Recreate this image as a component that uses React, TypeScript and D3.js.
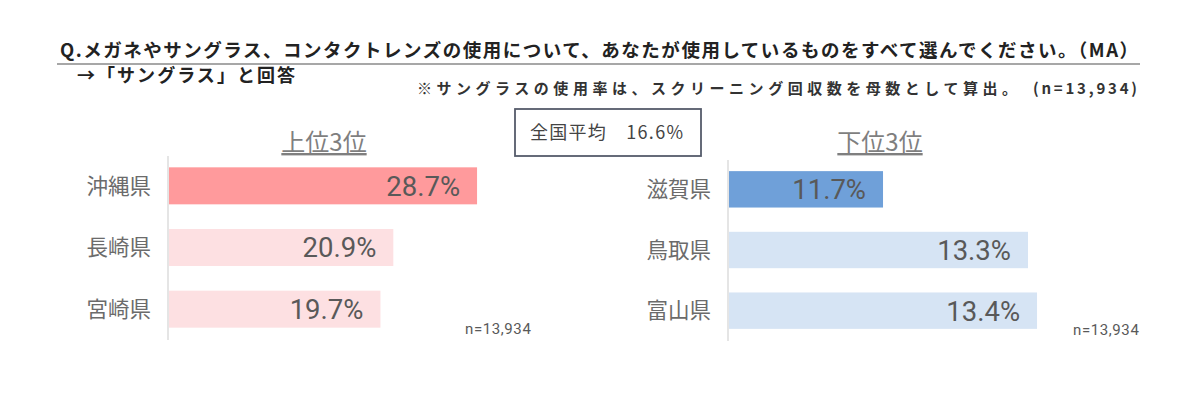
import React from "react";
import * as d3 from "d3";

const topCategories = ["沖縄県", "長崎県", "宮崎県"];
const topValues = [28.7, 20.9, 19.7];
const bottomCategories = ["滋賀県", "鳥取県", "富山県"];
const bottomValues = [11.7, 13.3, 13.4];
const topColors = ["#ff9a9c", "#fde0e2", "#fde0e2"];
const bottomColors = ["#6fa0d9", "#d6e4f4", "#d6e4f4"];

const TITLE = "Q.メガネやサングラス、コンタクトレンズの使用について、あなたが使用しているものをすべて選んでください。（MA）";
const SUB = "→「サングラス」と回答";
const NOTE = "※サングラスの使用率は、スクリーニング回収数を母数として算出。";
const NOTE_N = "(n=13,934)";
const N_LABEL = "n=13,934";
const AVG_LABEL = "全国平均　16.6%";

const JP = "'Noto Sans CJK JP', 'Noto Sans', sans-serif";
const NUM = "Roboto, 'Noto Sans', sans-serif";

function Panel({ cats, vals, colors, x, y, axisX, heading, headingX, nX, nY }: any) {
  return (
    <g>
      <text x={headingX} y={151} textAnchor="middle" fontFamily={JP} fontSize={24} fill="#7f7f7f" textDecoration="underline">{heading}</text>
      <line x1={axisX} x2={axisX} y1={y.range()[0] + 1} y2={y.range()[1]} stroke="#dcdcdc" strokeWidth={1.5} />
      {cats.map((c: string, i: number) => {
        const y0 = y(c)!;
        const bw = y.bandwidth();
        const x0 = x.range()[0];
        const x1 = x(vals[i]);
        return (
          <g key={c}>
            <rect x={x0} y={y0} width={x1 - x0} height={bw} fill={colors[i]} />
            <text x={axisX - 17} y={y0 + bw / 2} dy="0.36em" textAnchor="end" fontFamily={JP} fontSize={21.5} fill="#6b6b6b">{c}</text>
            <text x={x1 - 17} y={y0 + bw / 2} dy="0.36em" textAnchor="end" fontFamily={NUM} fontSize={27.5} fill="#595959">{vals[i].toFixed(1)}%</text>
          </g>
        );
      })}
      <text x={nX} y={nY} fontFamily={NUM} fontSize={15} letterSpacing={0.6} fill="#595959">{N_LABEL}</text>
    </g>
  );
}

export default function App() {
  const xL = d3.scaleLinear().domain([0, 30]).range([169, 491]);
  const yL = d3.scaleBand<string>().domain(topCategories).range([155, 340]).paddingInner(0.4).paddingOuter(0.2);
  const xR = d3.scaleLinear().domain([10, 15]).range([729, 1182]);
  const yR = d3.scaleBand<string>().domain(bottomCategories).range([159, 341]).paddingInner(0.4).paddingOuter(0.2);

  return (
    <div style={{ position: "absolute", left: 0, top: 0 }}>
      <svg width={1200} height={394} style={{ display: "block", background: "#fff" }}>
        <text x={60} y={57} fontFamily={JP} fontWeight="bold" fontSize={18.5} fill="#222" textLength={1078} lengthAdjust="spacing">{TITLE}</text>
        <line x1={57} x2={1140} y1={64} y2={64} stroke="#8a8a8a" strokeWidth={1.5} />
        <text x={77} y={82} fontFamily={JP} fontWeight="bold" fontSize={18} fill="#222" textLength={218} lengthAdjust="spacing">{SUB}</text>
        <text x={417} y={94} fontFamily={JP} fontWeight="bold" fontSize={15} fill="#333" textLength={600} lengthAdjust="spacing">{NOTE}</text>
        <text x={1033} y={94} fontFamily={JP} fontWeight="bold" fontSize={15} fill="#333" textLength={104} lengthAdjust="spacing">{NOTE_N}</text>

        <rect x={515} y={109} width={186} height={47} fill="#fff" stroke="#555b6b" strokeWidth={1.8} />
        <text x={530} y={133} dy="0.36em" fontFamily={JP} fontSize={18} fill="#444" textLength={153} lengthAdjust="spacing">{AVG_LABEL}</text>

        <Panel cats={topCategories} vals={topValues} colors={topColors} x={xL} y={yL} axisX={168} heading="上位3位" headingX={324} nX={465} nY={334} />
        <Panel cats={bottomCategories} vals={bottomValues} colors={bottomColors} x={xR} y={yR} axisX={728} heading="下位3位" headingX={880} nX={1073} nY={335} />
      </svg>
    </div>
  );
}
